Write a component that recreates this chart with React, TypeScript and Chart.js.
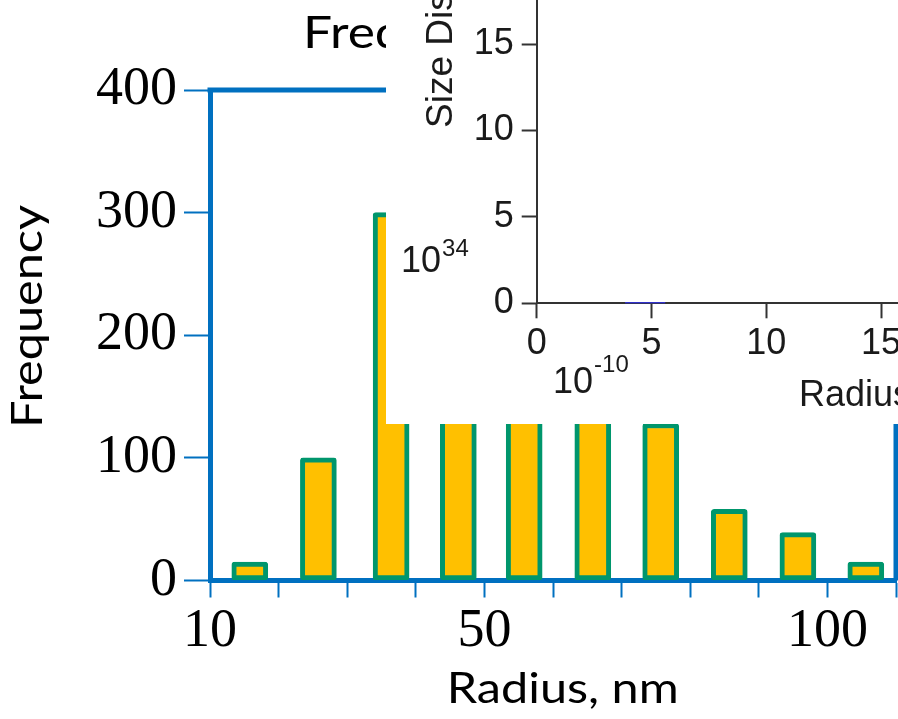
import React, { useEffect, useRef } from 'react';
import { Chart, registerables } from 'chart.js';

Chart.register(...registerables);

// ---- data ----
const radiusCenters = [15.8, 25.8, 36.4, 46.2, 55.8, 65.8, 75.7, 85.7, 95.7, 105.6];
const frequencies = [15, 100, 300, 240, 200, 170, 128, 58, 39, 15];
const xTickLabels = [10, 50, 100];
const insetTicksX = [0, 5, 10, 15];
const insetTicksY = [0, 5, 10, 15];
const insetRadius = [3.85, 5.6];
const insetValues = [0, 0];

const BLUE = '#0070C0';
const YELLOW = '#FFC000';
const GREEN = '#00966C';
const INK = '#1a1a1a';

// draw text in Lato, horizontally stretched to a target width (Calibri-like proportions)
function drawLabel(ctx: any, text: string, x: number, y: number, size: number, width: number, align: 'left' | 'center', rotate = false) {
  ctx.save();
  ctx.font = `${size}px Lato`;
  ctx.textBaseline = 'alphabetic';
  ctx.textAlign = 'left';
  const w = ctx.measureText(text).width;
  const sx = width / w;
  ctx.translate(x, y);
  if (rotate) ctx.rotate(-Math.PI / 2);
  ctx.scale(sx, 1);
  ctx.fillText(text, align === 'center' ? -w / 2 : 0, 0);
  ctx.restore();
}

const mainOverlay = {
  id: 'mainOverlay',
  afterDatasetsDraw(chart: any) {
    const { ctx, chartArea: a } = chart;
    ctx.save();
    ctx.strokeStyle = BLUE;
    ctx.lineWidth = 5;
    ctx.beginPath();
    ctx.moveTo(a.left - 2.5, a.top);
    ctx.lineTo(a.right, a.top);
    ctx.lineTo(a.right, a.bottom);
    ctx.stroke();
    ctx.fillStyle = '#000';
    drawLabel(ctx, 'Frequency Distribution', a.left + 93, 47.5, 44, 520, 'left');
    drawLabel(ctx, 'Frequency', 41.7, 316.5, 42, 223, 'center', true);
    drawLabel(ctx, 'Radius, nm', 446.7, 702.7, 43, 232, 'left');
    ctx.restore();
  },
};

const insetOverlay = {
  id: 'insetOverlay',
  afterDraw(chart: any) {
    const { ctx } = chart;
    ctx.save();
    ctx.fillStyle = INK;
    ctx.textBaseline = 'alphabetic';
    ctx.textAlign = 'left';
    ctx.save();
    ctx.translate(66, 128);
    ctx.rotate(-Math.PI / 2);
    ctx.font = '37px "Liberation Sans"';
    ctx.fillText('Size Distribution', 0, 0);
    ctx.restore();
    ctx.font = '36px "Liberation Sans"';
    ctx.fillText('10', 15, 272);
    let w = ctx.measureText('10').width;
    ctx.font = '24px "Liberation Sans"';
    ctx.fillText('34', 15 + w + 1, 256);
    ctx.font = '36px "Liberation Sans"';
    ctx.fillText('10', 167, 393);
    w = ctx.measureText('10').width;
    ctx.font = '24px "Liberation Sans"';
    ctx.fillText('-10', 167 + w + 1, 372);
    ctx.font = '36px "Liberation Sans"';
    ctx.fillText('Radius', 413, 406);
    ctx.restore();
  },
};

export default function App() {
  const mainRef = useRef<HTMLCanvasElement>(null);
  const insetRef = useRef<HTMLCanvasElement>(null);

  useEffect(() => {
    const tickGrid = (len: number) => ({
      display: true,
      drawOnChartArea: false,
      drawTicks: true,
      offset: false,
      tickLength: len,
      tickWidth: 2,
      tickColor: BLUE,
      color: BLUE,
    });
    const main = new Chart(mainRef.current as HTMLCanvasElement, {
      type: 'bar',
      data: {
        datasets: [
          {
            data: radiusCenters.map((x, i) => ({ x, y: frequencies[i] })),
            backgroundColor: YELLOW,
            borderColor: GREEN,
            borderWidth: 5,
            borderSkipped: false,
            borderRadius: 3,
            barThickness: 36,
          } as any,
        ],
      },
      options: {
        animation: false,
        responsive: false,
        maintainAspectRatio: false,
        layout: { padding: { top: 90, right: 1, left: 0, bottom: 0 } },
        plugins: { legend: { display: false }, tooltip: { enabled: false }, title: { display: false } },
        scales: {
          x: {
            type: 'linear',
            min: 10,
            max: 110,
            offset: false,
            afterBuildTicks: (s: any) => {
              s.ticks = s.ticks.filter((t: any) => Math.abs(t.value % 10) < 1e-6);
            },
            ticks: {
              stepSize: 10,
              autoSkip: false,
              maxRotation: 0,
              padding: 2,
              color: '#000',
              font: { family: '"Liberation Serif"', size: 54 },
              callback: (v: any) => (xTickLabels.includes(Number(v)) ? String(v) : ''),
            },
            grid: tickGrid(17),
            border: { display: true, color: BLUE, width: 5 },
            title: { display: false },
            afterFit: (s: any) => {
              s.height = 719 - 580.5;
            },
          } as any,
          y: {
            min: 0,
            max: 400,
            ticks: {
              stepSize: 100,
              padding: 7,
              color: '#000',
              font: { family: '"Liberation Serif"', size: 54 },
            },
            grid: tickGrid(26),
            border: { display: true, color: BLUE, width: 5 },
            title: { display: false },
            afterFit: (s: any) => {
              s.width = 210;
            },
          } as any,
        },
      },
      plugins: [mainOverlay],
    });

    const darkGrid = {
      display: true,
      drawOnChartArea: false,
      drawTicks: true,
      tickLength: 15,
      tickWidth: 2,
      tickColor: '#333',
      color: '#333',
    };
    const inset = new Chart(insetRef.current as HTMLCanvasElement, {
      type: 'line',
      data: {
        datasets: [
          {
            data: insetRadius.map((x, i) => ({ x, y: insetValues[i] })),
            borderColor: '#3030FF',
            borderWidth: 2,
            pointRadius: 0,
          },
        ],
      },
      options: {
        animation: false,
        responsive: false,
        maintainAspectRatio: false,
        layout: { padding: 0 },
        plugins: { legend: { display: false }, tooltip: { enabled: false } },
        scales: {
          x: {
            type: 'linear',
            min: 0,
            max: 15.74,
            afterBuildTicks: (s: any) => {
              s.ticks = insetTicksX.map((v) => ({ value: v }));
            },
            ticks: {
              autoSkip: false,
              padding: 4,
              maxRotation: 0,
              color: INK,
              font: { family: '"Liberation Sans"', size: 36 },
            },
            grid: darkGrid,
            border: { display: true, color: '#333', width: 2 },
            afterFit: (s: any) => {
              s.height = 424 - 303.3;
              s.paddingLeft = 0;
              s.paddingRight = 0;
            },
          } as any,
          y: {
            type: 'linear',
            min: 0,
            max: 17.56,
            afterBuildTicks: (s: any) => {
              s.ticks = insetTicksY.map((v) => ({ value: v }));
            },
            ticks: {
              autoSkip: false,
              padding: 8,
              color: INK,
              font: { family: '"Liberation Sans"', size: 36 },
            },
            grid: darkGrid,
            border: { display: true, color: '#333', width: 2 },
            afterFit: (s: any) => {
              s.width = 150.7;
              s.paddingTop = 0;
              s.paddingBottom = 0;
            },
          } as any,
        },
      },
      plugins: [insetOverlay],
    });

    return () => {
      main.destroy();
      inset.destroy();
    };
  }, []);

  return (
    <div style={{ position: 'absolute', left: 0, top: 0, width: 898, height: 719, background: '#fff', overflow: 'hidden' }}>
      <canvas ref={mainRef} width={898} height={719} style={{ position: 'absolute', left: 0, top: 0, display: 'block' }} />
      <div style={{ position: 'absolute', left: 386, top: 0, width: 512, height: 424, background: '#fff', overflow: 'hidden' }}>
        <canvas ref={insetRef} width={512} height={424} style={{ display: 'block' }} />
      </div>
    </div>
  );
}
